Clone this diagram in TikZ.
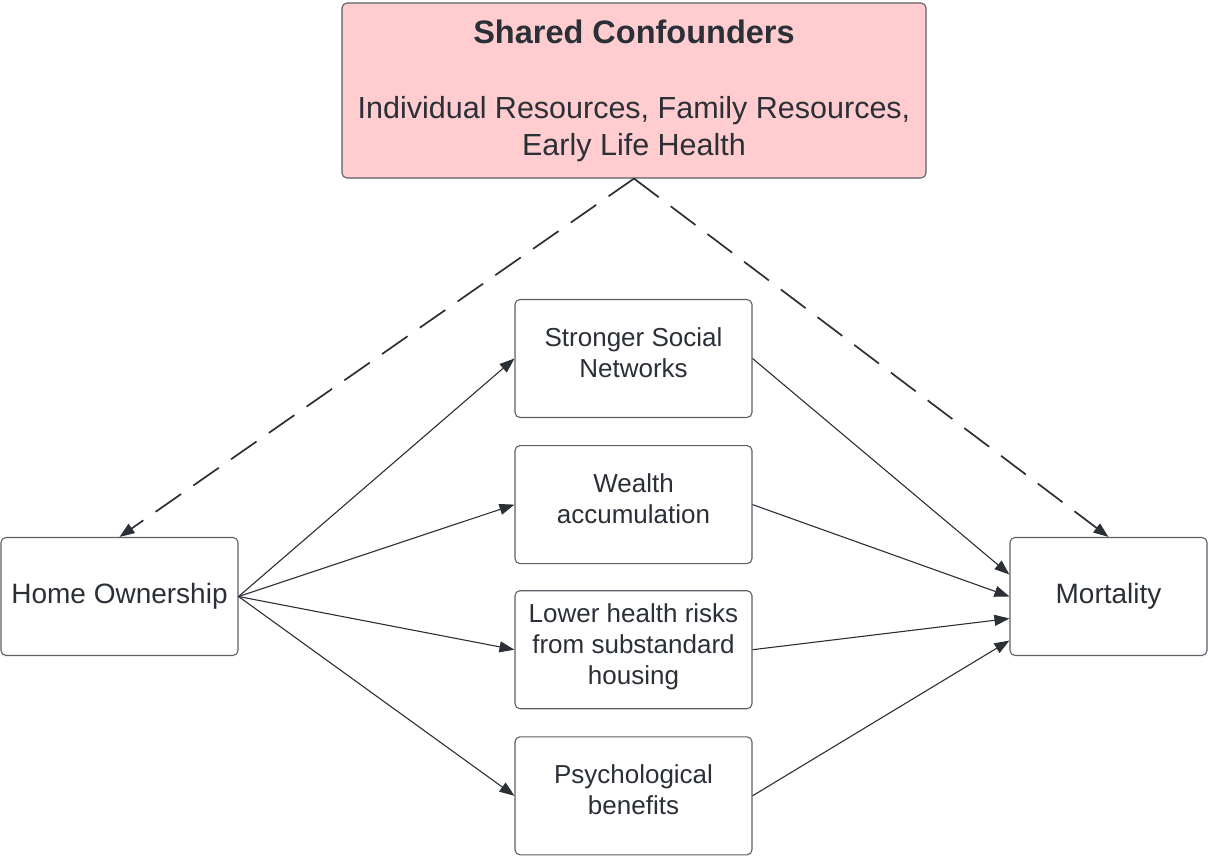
\documentclass[tikz,border=0pt]{standalone}
\usepackage{fontspec}
\setmainfont{Liberation Sans}
\usetikzlibrary{positioning,arrows.meta}
\definecolor{ink}{HTML}{2B2F36}
\definecolor{edgegray}{HTML}{5C5F66}
\definecolor{pinkfill}{HTML}{FFCCCF}
\tikzset{box/.style={draw=edgegray, line width=1.1pt, rounded corners=5pt, fill=white, text=ink,
           minimum width=237pt, minimum height=118pt, align=center, inner sep=0pt},
         mid/.style={box, font=\fontsize{26}{31}\selectfont, text depth=12pt},
         big/.style={box, font=\fontsize{28}{34}\selectfont},
         link/.style={draw=ink, line width=1.1pt, -{Triangle[length=15pt,width=11pt]}},
         dashlink/.style={link, line width=1.7pt, dash pattern=on 31pt off 15pt}}

\begin{document}
\begin{tikzpicture}[x=1pt,y=-1pt]
  \useasboundingbox (0,0) rectangle (1208,857);

  \node[box, fill=pinkfill, minimum width=584pt, minimum height=175pt,
        font=\fontsize{30.5}{37}\selectfont] (shared) at (634,90.5)
        {{\fontsize{32.5}{37}\selectfont\bfseries Shared Confounders}\\[38pt]
         Individual Resources, Family Resources,\\Early Life Health};

  \node[big] (home) at (119.5,596.5) {Home Ownership};
  \node[big, minimum width=197pt] (mort) at (1108.5,596.5) {Mortality};

  \node[mid] (social) at (633.5,358.5) {Stronger Social\\Networks};
  \node[mid, below=27pt of social] (wealth) {Wealth\\accumulation};
  \node[mid, below=26pt of wealth] (risk) {Lower health risks\\from substandard\\housing};
  \node[mid, below=27pt of risk] (psych) {Psychological\\benefits};

  \draw[dashlink] (shared.south) -- (home.north);
  \draw[dashlink] (shared.south) -- (mort.north);

  \draw[link] (home.east) -- (social.west);
  \draw[link] (home.east) -- (wealth.west);
  \draw[link] (home.east) -- (risk.west);
  \draw[link] (home.east) -- (psych.west);

  \draw[link] (social.east) -- ([yshift=22pt]mort.west);
  \draw[link] (wealth.east) -- (mort.west);
  \draw[link] (risk.east) -- ([yshift=-22pt]mort.west);
  \draw[link] (psych.east) -- ([yshift=-44pt]mort.west);
\end{tikzpicture}
\end{document}
